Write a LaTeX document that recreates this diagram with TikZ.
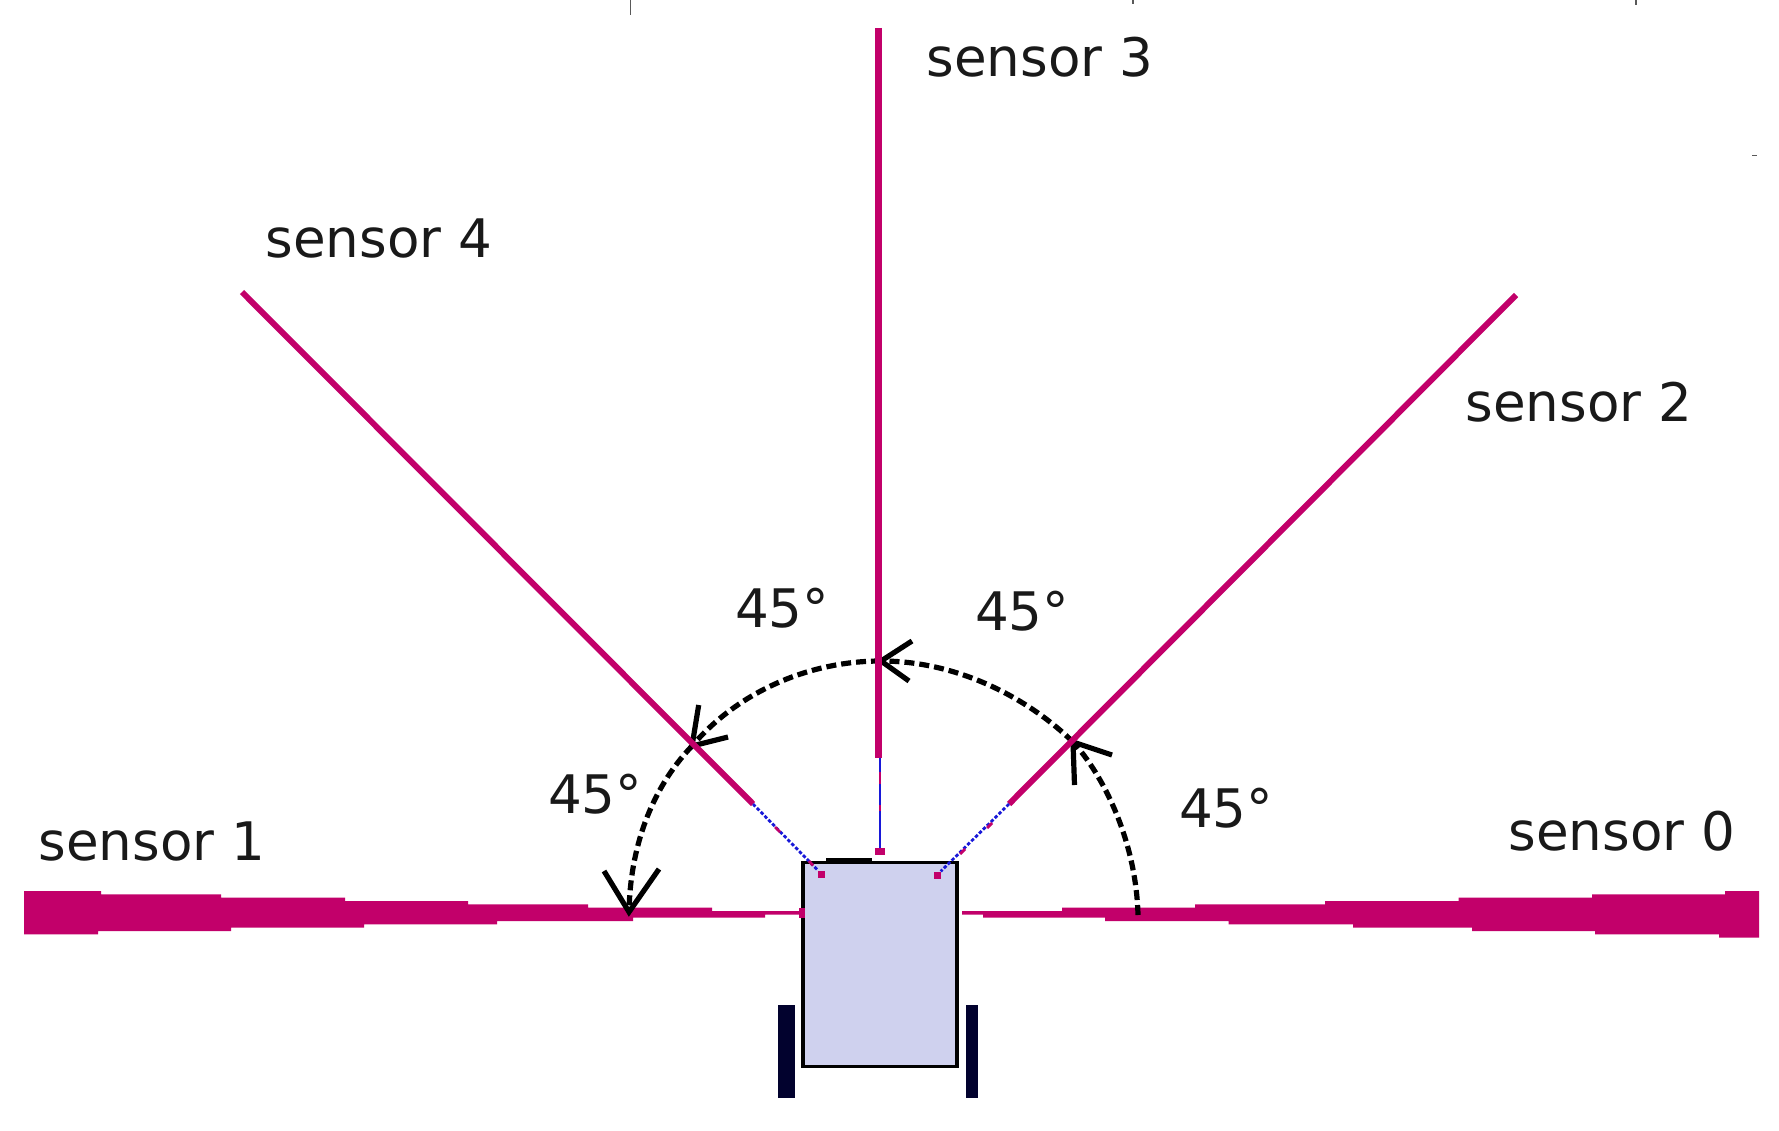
\documentclass[tikz,border=0pt]{standalone}
\usepackage{fontspec}
\setmainfont{DejaVu Sans}
\definecolor{beam}{HTML}{C2006A}
\definecolor{bodyfill}{HTML}{CFD1EE}
\definecolor{wheelc}{HTML}{02022E}
\definecolor{raybl}{HTML}{1818D8}
\tikzset{
  x=1pt,y=-1pt,
  lbl/.style={anchor=base west,inner sep=0pt,outer sep=0pt,text=black!90,font=\fontsize{53.1}{60}\selectfont},
  beamline/.style={draw=beam,line width=6pt},
  beamthick/.style={draw=beam,line width=6.3pt},
  wedge/.style={fill=beam,draw=none},
  raydot/.style={draw=raybl,line width=2.8pt,dash pattern=on 3.5pt off 2pt},
  raypink/.style={draw=beam,line width=2.8pt},
  sq/.style={fill=beam,draw=none,minimum size=7pt,inner sep=0pt},
  arcd/.style={draw=black,line width=5.2pt,dash pattern=on 10pt off 5pt},
  barb/.style={draw=black,line width=5.2pt,line join=miter},
  tick/.style={draw=black!65,line width=1.6pt},
  robot/.style={draw=black,fill=bodyfill,line width=3.5pt,minimum width=154pt,minimum height=204pt,inner sep=0pt},
  wheel/.style={fill=wheelc,draw=none,inner sep=0pt}
}
\begin{document}
\begin{tikzpicture}
\useasboundingbox (0,0) rectangle (1779,1131);
% scanner artefacts
\draw[tick] (630.5,0) -- (630.5,15);
\draw[tick] (1133,0) -- (1133,4);
\draw[tick] (1636,0) -- (1636,5);
\draw[tick] (1752,155.7) -- (1757,155.7);
% stepped wedges
\fill[wedge] (24,891) -- (101,891) -- (101,894.3) -- (221,894.3) -- (221,897.7) -- (345,897.7) -- (345,901) -- (468,901) -- (468,904.3) -- (588,904.3) -- (588,907.7) -- (712,907.7) -- (712,911) -- (803,911) -- (803,914.5) -- (765,914.5) -- (765,917.7) -- (633,917.7) -- (633,921) -- (497,921) -- (497,924.3) -- (364,924.3) -- (364,927.7) -- (231,927.7) -- (231,931) -- (98,931) -- (98,934.3) -- (24,934.3) -- cycle;
\fill[wedge] (1759,891) -- (1725,891) -- (1725,894.3) -- (1592,894.3) -- (1592,897.7) -- (1458.5,897.7) -- (1458.5,901) -- (1325,901) -- (1325,904.3) -- (1195,904.3) -- (1195,907.7) -- (1062,907.7) -- (1062,911) -- (962,911) -- (962,914.5) -- (983,914.5) -- (983,917.7) -- (1105,917.7) -- (1105,921) -- (1228.5,921) -- (1228.5,924.3) -- (1353,924.3) -- (1353,927.7) -- (1472,927.7) -- (1472,931) -- (1595,931) -- (1595,934.3) -- (1719,934.3) -- (1719,937.7) -- (1759,937.7) -- cycle;
% angle arcs
\coordinate (a0) at (1138,915);
\coordinate (a1) at (1073,742);
\coordinate (a2) at (881,661);
\coordinate (a3) at (692,746);
\coordinate (a4) at (629,912);
\draw[arcd] (a0) .. controls (1136,840) and (1103,775) .. (a1);
\draw[arcd] (a1) .. controls (1030,700) and (960,661) .. (a2);
\draw[arcd] (a2) .. controls (805,661) and (735,695) .. (a3);
\draw[arcd] (a3) .. controls (650,790) and (630,850) .. (a4);
\draw[barb] (1074.5,785) -- (a1) -- (1112,755);
\draw[barb] (912,641) -- (a2) -- (909,681);
\draw[barb] (698.7,705) -- (a3) -- (728,737);
\draw[barb] (604,871) -- (a4) -- (659,869);
% beams
\coordinate (b3a) at (878.6,28);
\coordinate (b3b) at (878.6,757.5);
\coordinate (b4a) at (242,292);
\coordinate (b4b) at (753,804);
\coordinate (b2a) at (1516,295);
\coordinate (b2b) at (1009,804);
\draw[beamthick] (b3a) -- (b3b);
\draw[beamline] (b4a) -- (b4b);
\draw[beamline] (b2a) -- (b2b);
% robot
\node[wheel,minimum width=17pt,minimum height=93pt] (wl) at (786.7,1051.2) {};
\node[wheel,minimum width=12.6pt,minimum height=93pt] (wr) at (971.8,1051.2) {};
\node[robot] (body) at (880,964.5) {};
\fill[black] (826,858) rectangle (872,863.5);
% sensor positions
\node[sq,minimum width=9.5pt,minimum height=7pt] (s3) at (880.2,851) {};
\node[sq] (s4) at (821.5,874) {};
\node[sq] (s2) at (937,875) {};
\node[sq,minimum width=6pt,minimum height=9.5pt] (s1) at (802,912.8) {};
% thin rays
\draw[draw=raybl,line width=2.8pt] (880,757.5) -- (880,848);
\draw[raypink] (880,772) -- (880,784);
\draw[raypink] (880,805) -- (880,811);
\draw[raydot] (b4b) -- (s4);
\draw[raypink] (775,827) -- (780,832);
\draw[raypink] (809,861) -- (813,865.5);
\draw[raydot] (b2b) -- (s2);
\draw[raypink] (992,823) -- (987,828);
\draw[raypink] (965,849) -- (960,854);
% labels
\node[lbl] (l3) at (926.5,77) {sensor 3};
\node[lbl] (l4) at (265.5,257.5) {sensor 4};
\node[lbl] (l2) at (1465.5,421) {sensor 2};
\node[lbl] (l1) at (38.5,860.5) {sensor 1};
\node[lbl] (l0) at (1508.5,850) {sensor 0};
\node[lbl] (n1) at (735,627) {45°};
\node[lbl] (n2) at (975,630) {45°};
\node[lbl] (n3) at (548,813.5) {45°};
\node[lbl] (n4) at (1179,827) {45°};
\end{tikzpicture}
\end{document}
